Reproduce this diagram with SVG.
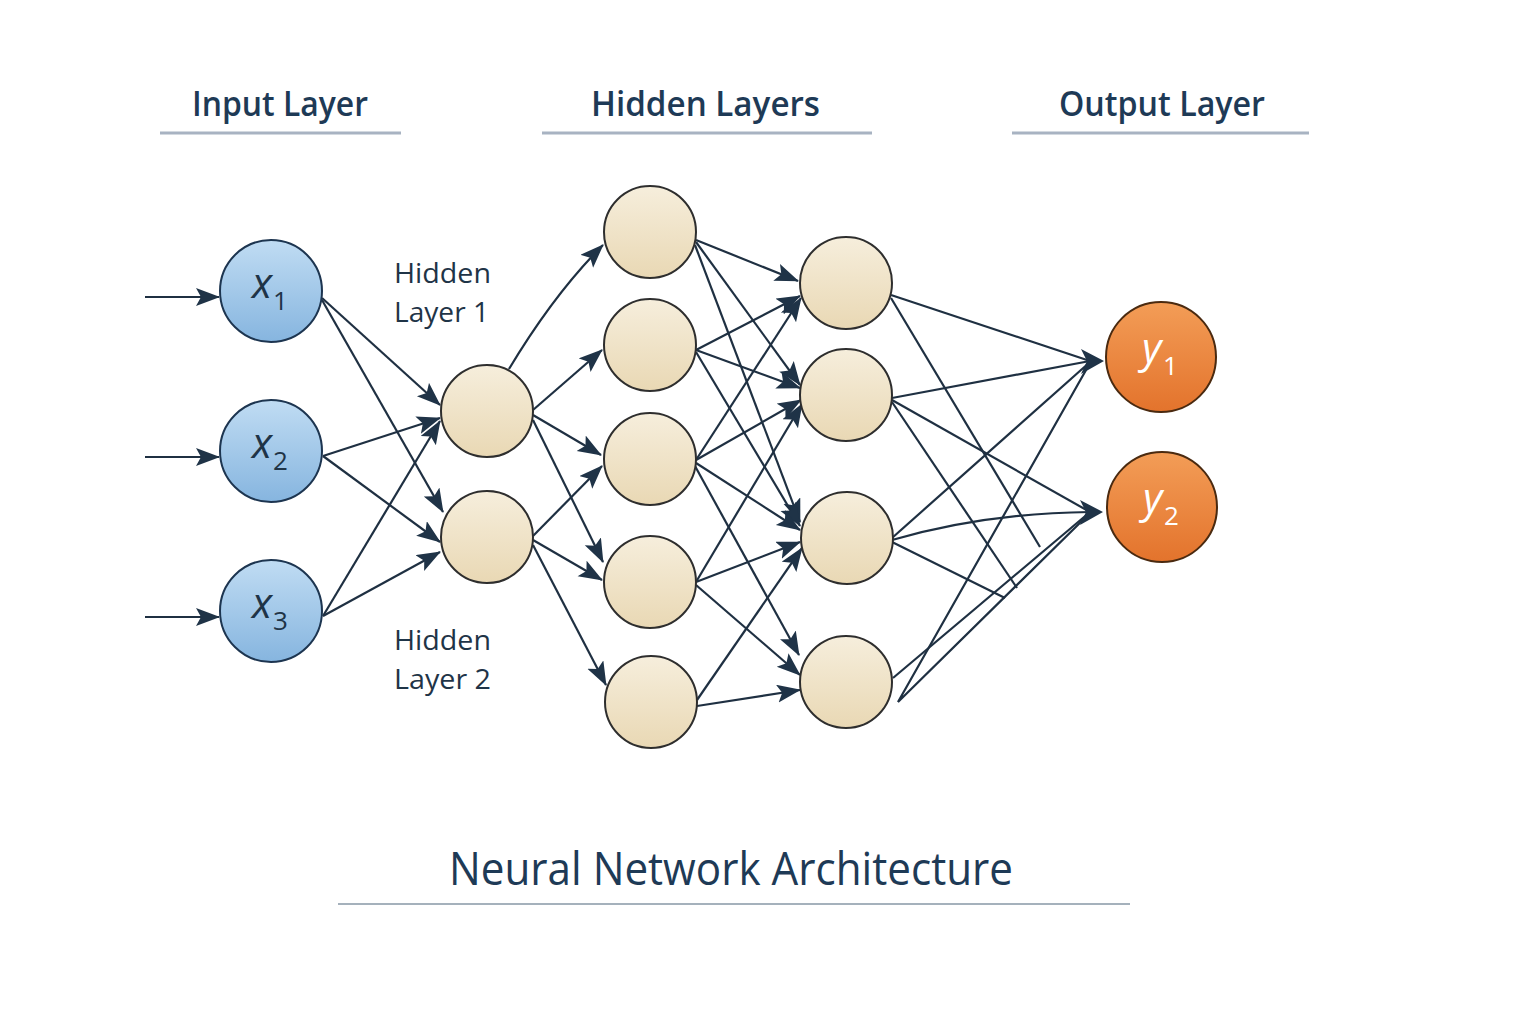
<svg xmlns="http://www.w3.org/2000/svg" width="1536" height="1024" viewBox="0 0 1536 1024">
<defs>
<linearGradient id="gIn" x1="0" y1="0" x2="0" y2="1"><stop offset="0" stop-color="#c0dcf3"/><stop offset="1" stop-color="#86b5df"/></linearGradient>
<linearGradient id="gHid" x1="0" y1="0" x2="0" y2="1"><stop offset="0" stop-color="#f6eedc"/><stop offset="1" stop-color="#e9d8b4"/></linearGradient>
<linearGradient id="gOut" x1="0" y1="0" x2="0" y2="1"><stop offset="0" stop-color="#f39d57"/><stop offset="1" stop-color="#e3732c"/></linearGradient>
<marker id="ah" markerUnits="userSpaceOnUse" markerWidth="26" markerHeight="20" refX="23" refY="9" orient="auto">
<path d="M0,0 L24,9 L0,18 L5,9 z" fill="#1f3347"/>
</marker>
<style>
.ln{stroke:#1f3042;stroke-width:2.2;fill:none}
.ar{marker-end:url(#ah)}
.nin{fill:url(#gIn);stroke:#1d3550;stroke-width:2}
.nh{fill:url(#gHid);stroke:#2e2e2e;stroke-width:2}
.no{fill:url(#gOut);stroke:#4a2a10;stroke-width:2}
.hd{font-family:"Open Sans","Noto Sans","Liberation Sans",sans-serif;font-weight:600;fill:#1e3a56}
.tt{font-family:"Open Sans","Noto Sans","Liberation Sans",sans-serif;font-weight:500;fill:#1e3a56}
.lbl{font-family:"Open Sans","Noto Sans","Liberation Sans",sans-serif;font-weight:500;fill:#1f3447}
.var{font-family:"Open Sans","Noto Sans","DejaVu Sans",sans-serif;font-style:italic}
.sub{font-family:"Open Sans","Noto Sans","DejaVu Sans",sans-serif}
.ul{stroke:#a8b3c2;stroke-width:3}
</style>
</defs>
<rect width="1536" height="1024" fill="#ffffff"/>

<g id="headers">
<text class="hd" x="192" y="116" font-size="34" textLength="176" lengthAdjust="spacingAndGlyphs">Input Layer</text>
<line class="ul" x1="160" y1="133" x2="401" y2="133"/>
<text class="hd" x="591" y="116" font-size="34" textLength="229" lengthAdjust="spacingAndGlyphs">Hidden Layers</text>
<line class="ul" x1="542" y1="133" x2="872" y2="133"/>
<text class="hd" x="1059" y="116" font-size="34" textLength="206" lengthAdjust="spacingAndGlyphs">Output Layer</text>
<line class="ul" x1="1012" y1="133" x2="1309" y2="133"/>
</g>

<g id="layer-labels">
<text class="lbl" x="394" y="283" font-size="28" textLength="97" lengthAdjust="spacingAndGlyphs">Hidden</text>
<text class="lbl" x="394" y="322" font-size="28" textLength="95" lengthAdjust="spacingAndGlyphs">Layer 1</text>
<text class="lbl" x="394" y="650" font-size="28" textLength="97" lengthAdjust="spacingAndGlyphs">Hidden</text>
<text class="lbl" x="394" y="689" font-size="28" textLength="97" lengthAdjust="spacingAndGlyphs">Layer 2</text>
</g>

<g id="connectors">
<!-- inputs -->
<line class="ln ar" x1="145" y1="297" x2="219" y2="297"/>
<line class="ln ar" x1="145" y1="457" x2="219" y2="457"/>
<line class="ln ar" x1="145" y1="617" x2="219" y2="617"/>
<!-- input -> H1 -->
<line class="ln ar" x1="322" y1="298" x2="440" y2="405"/>
<line class="ln ar" x1="322" y1="300" x2="443" y2="512"/>
<line class="ln ar" x1="323" y1="456" x2="440" y2="418"/>
<line class="ln ar" x1="323" y1="456" x2="440" y2="542"/>
<line class="ln ar" x1="323" y1="616" x2="440" y2="421"/>
<line class="ln ar" x1="323" y1="616" x2="440" y2="552"/>
<!-- H1 -> C3 -->
<path class="ln ar" d="M509,369 Q554,294 603,245"/>
<line class="ln ar" x1="533" y1="410" x2="602" y2="350"/>
<line class="ln ar" x1="533" y1="415" x2="601" y2="455"/>
<line class="ln ar" x1="533" y1="420" x2="603" y2="562"/>
<line class="ln ar" x1="533" y1="536" x2="602" y2="466"/>
<line class="ln ar" x1="533" y1="540" x2="602" y2="580"/>
<line class="ln ar" x1="533" y1="545" x2="606" y2="685"/>
<!-- C3 -> C4 -->
<line class="ln ar" x1="696" y1="240" x2="798" y2="281"/>
<line class="ln ar" x1="696" y1="242" x2="800" y2="385"/>
<line class="ln ar" x1="695" y1="245" x2="800" y2="522"/>
<line class="ln ar" x1="696" y1="350" x2="800" y2="296"/>
<line class="ln ar" x1="696" y1="350" x2="800" y2="388"/>
<line class="ln ar" x1="696" y1="352" x2="800" y2="526"/>
<line class="ln ar" x1="696" y1="460" x2="801" y2="298"/>
<line class="ln ar" x1="696" y1="460" x2="801" y2="400"/>
<line class="ln ar" x1="696" y1="463" x2="800" y2="530"/>
<line class="ln ar" x1="695" y1="466" x2="799" y2="655"/>
<line class="ln ar" x1="696" y1="582" x2="802" y2="404"/>
<line class="ln ar" x1="696" y1="582" x2="800" y2="542"/>
<line class="ln ar" x1="696" y1="585" x2="800" y2="675"/>
<line class="ln ar" x1="697" y1="700" x2="802" y2="548"/>
<line class="ln ar" x1="697" y1="706" x2="800" y2="690"/>
<!-- C4 -> outputs -->
<line class="ln" x1="891" y1="295" x2="1090" y2="361"/>
<line class="ln" x1="891" y1="298" x2="1040" y2="547"/>
<line class="ln" x1="892" y1="398" x2="1090" y2="361"/>
<line class="ln" x1="892" y1="400" x2="1090" y2="512"/>
<line class="ln" x1="892" y1="402" x2="1017" y2="588"/>
<line class="ln" x1="892" y1="538" x2="1090" y2="362"/>
<path class="ln" d="M892,540 Q985,513 1090,512"/>
<line class="ln" x1="892" y1="542" x2="1005" y2="598"/>
<line class="ln" x1="893" y1="678" x2="1090" y2="512"/>
<polyline class="ln" points="1090,363 898,702 1090,513"/>
<path d="M1104,361 L1081,349 L1087,361 L1081,374 z" fill="#1f3347"/>
<path d="M1103,512 L1080,500 L1086,512 L1080,525 z" fill="#1f3347"/>
</g>

<g id="node-x1"><circle class="nin" cx="271" cy="291" r="51"/><text class="var" x="252" y="298" font-size="42" fill="#1f3447">x</text><text class="sub" x="273" y="310" font-size="26" fill="#1f3447">1</text></g>
<g id="node-x2"><circle class="nin" cx="271" cy="451" r="51"/><text class="var" x="252" y="458" font-size="42" fill="#1f3447">x</text><text class="sub" x="273" y="470" font-size="26" fill="#1f3447">2</text></g>
<g id="node-x3"><circle class="nin" cx="271" cy="611" r="51"/><text class="var" x="252" y="618" font-size="42" fill="#1f3447">x</text><text class="sub" x="273" y="630" font-size="26" fill="#1f3447">3</text></g>

<g id="node-h1a"><circle class="nh" cx="487" cy="411" r="46"/></g>
<g id="node-h1b"><circle class="nh" cx="487" cy="537" r="46"/></g>

<g id="node-h2a"><circle class="nh" cx="650" cy="232" r="46"/></g>
<g id="node-h2b"><circle class="nh" cx="650" cy="345" r="46"/></g>
<g id="node-h2c"><circle class="nh" cx="650" cy="459" r="46"/></g>
<g id="node-h2d"><circle class="nh" cx="650" cy="582" r="46"/></g>
<g id="node-h2e"><circle class="nh" cx="651" cy="702" r="46"/></g>

<g id="node-h3a"><circle class="nh" cx="846" cy="283" r="46"/></g>
<g id="node-h3b"><circle class="nh" cx="846" cy="395" r="46"/></g>
<g id="node-h3c"><circle class="nh" cx="847" cy="538" r="46"/></g>
<g id="node-h3d"><circle class="nh" cx="846" cy="682" r="46"/></g>

<g id="node-y1"><circle class="no" cx="1161" cy="357" r="55"/><text class="var" x="1142" y="363" font-size="42" fill="#ffffff">y</text><text class="sub" x="1163" y="375" font-size="26" fill="#ffffff">1</text></g>
<g id="node-y2"><circle class="no" cx="1162" cy="507" r="55"/><text class="var" x="1143" y="513" font-size="42" fill="#ffffff">y</text><text class="sub" x="1164" y="525" font-size="26" fill="#ffffff">2</text></g>

<g id="title">
<text class="tt" x="449" y="885" font-size="46" textLength="564" lengthAdjust="spacingAndGlyphs">Neural Network Architecture</text>
<line x1="338" y1="904" x2="1130" y2="904" stroke="#8797a6" stroke-width="1.5"/>
</g>
</svg>
